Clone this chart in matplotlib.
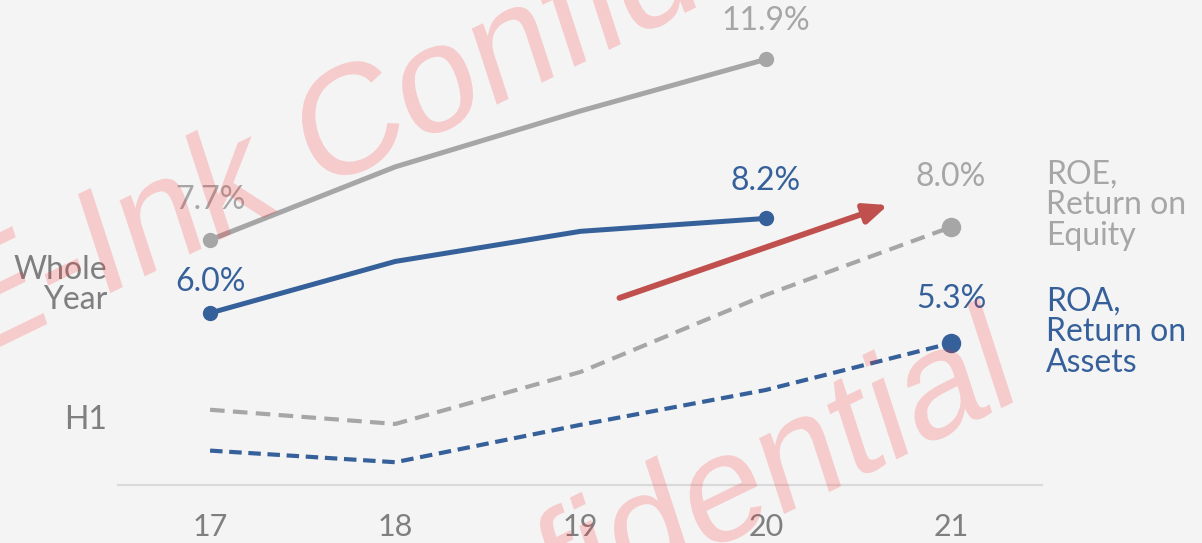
import matplotlib
matplotlib.use('Agg')
import matplotlib.pyplot as plt
from matplotlib.textpath import TextPath
from matplotlib.font_manager import FontProperties
from matplotlib.patches import PathPatch
from matplotlib.transforms import Affine2D, IdentityTransform

# Данные
years = [17, 18, 19, 20, 21]
roe_year = [7.7, 9.4, 10.7, 11.9]
roa_year = [6.0, 7.2, 7.9, 8.2]
roe_h1 = [3.75, 3.42, 4.63, 6.42, 8.0]
roa_h1 = [2.8, 2.53, 3.4, 4.21, 5.3]
tick_labels = ['17', '18', '19', '20', '21']
arrow_start = (19.21, 6.35)
arrow_end = (20.66, 8.51)

W, H = 1202, 543
BG = '#f4f4f4'
GRAY = '#a6a6a6'
BLUE = '#36609a'
DARK = '#7f7f7f'
RED = '#c0504d'
FONT = ['Lato', 'DejaVu Sans']

fig = plt.figure(figsize=(W / 100, H / 100), dpi=100, facecolor=BG)
ax = fig.add_axes([118 / W, 58 / H, 924 / W, 485 / H])
ax.set_facecolor('none')
ax.set_xlim(16.503, 21.491)
ax.set_ylim(2.0, 13.28)

for s in ['top', 'left', 'right']:
    ax.spines[s].set_visible(False)
ax.spines['bottom'].set_color('#d9d9d9')
ax.spines['bottom'].set_linewidth(1.6)
ax.set_yticks([])
ax.set_xticks(years)
ax.set_xticklabels(tick_labels, color=DARK, fontsize=22, family=FONT)
ax.tick_params(axis='x', length=0, pad=20)

# Линии за весь год
ax.plot(years[:4], roe_year, color=GRAY, lw=3.6, marker='o', ms=10,
        markevery=[0, 3], solid_capstyle='round')
ax.plot(years[:4], roa_year, color=BLUE, lw=3.6, marker='o', ms=10,
        markevery=[0, 3], solid_capstyle='round')

# Полугодие (H1)
ax.plot(years, roe_h1, color=GRAY, lw=3, ls=(0, (3.5, 2)), marker='o', ms=13,
        markevery=[4])
ax.plot(years, roa_h1, color=BLUE, lw=3, ls=(0, (3, 1.6)), marker='o', ms=13,
        markevery=[4])

# Подписи значений
def label(x, y, txt, color, off):
    ax.annotate(txt, (x, y), xytext=(0, off), textcoords='offset pixels',
                ha='center', va='center', color=color, fontsize=23, family=FONT)

label(years[0], roe_year[0], f'{roe_year[0]:.1f}%', GRAY, 40)
label(years[3], roe_year[3], f'{roe_year[3]:.1f}%', GRAY, 38)
label(years[0], roa_year[0], f'{roa_year[0]:.1f}%', BLUE, 31)
label(years[3], roa_year[3], f'{roa_year[3]:.1f}%', BLUE, 37)
label(years[4], roe_h1[4], f'{roe_h1[4]:.1f}%', GRAY, 50)
label(years[4], roa_h1[4], f'{roa_h1[4]:.1f}%', BLUE, 44)

# Стрелка
ax.annotate('', xy=arrow_end, xytext=arrow_start,
            arrowprops=dict(arrowstyle='-|>,head_length=1.4,head_width=0.6',
                            color=RED, lw=4.2, shrinkA=0, shrinkB=0))

# Подписи строк и серий
def ftext(x, y, txt, color, ha):
    fig.text(x / W, 1 - y / H, txt, ha=ha, va='center', color=color,
             fontsize=23, family=FONT, linespacing=1.03)

ftext(107, 285, 'Whole\nYear', DARK, 'right')
ftext(107, 420, 'H1', DARK, 'right')
ftext(1046, 205, 'ROE,\nReturn on\nEquity', GRAY, 'left')
ftext(1046, 332, 'ROA,\nReturn on\nAssets', BLUE, 'left')

# Водяной знак (наклонный текст поверх графика)
fp = FontProperties(family=['Liberation Sans', 'DejaVu Sans'])
wm = TextPath((0, 0), 'E-Ink Confidential', size=150, prop=fp)
for x0, y0 in [(-37, 365), (-42, 917)]:
    tr = Affine2D().skew_deg(8, 0).rotate_deg(26).translate(x0, H - y0)
    patch = PathPatch(tr.transform_path(wm), facecolor='#ff2a2a',
                      edgecolor='none', alpha=0.2, transform=IdentityTransform(),
                      zorder=10)
    fig.add_artist(patch)

fig.savefig('out.png', dpi=100, facecolor=BG)
